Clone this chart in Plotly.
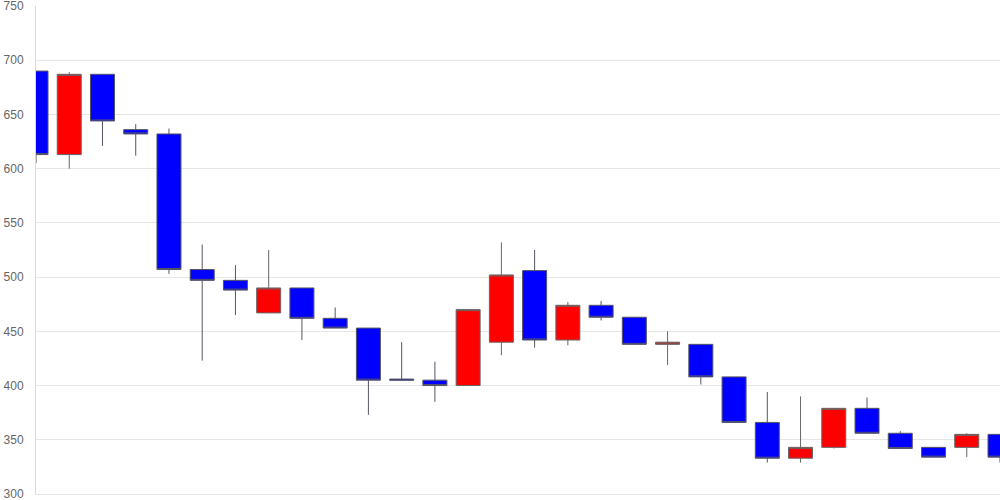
import plotly.graph_objects as go

idx = list(range(30))
opens  = [690, 613, 687, 636, 632, 507, 497, 467, 490, 462, 453, 406, 405, 400, 440, 506, 442, 474, 463, 438, 438, 408, 366, 333, 343, 379, 356, 343, 343, 355]
highs  = [690, 689, 687, 641, 637, 530, 511, 525, 490, 472, 453, 440, 422, 470, 532, 525, 477, 478, 463, 450, 438, 408, 394, 390, 379, 389, 358, 343, 356, 355]
lows   = [605, 600, 621, 612, 503, 423, 465, 467, 442, 453, 373, 405, 385, 400, 428, 435, 437, 460, 438, 419, 401, 366, 329, 329, 342, 356, 342, 334, 334, 329]
closes = [613, 687, 644, 632, 507, 497, 488, 490, 462, 453, 405, 405, 400, 470, 502, 442, 474, 463, 438, 440, 408, 366, 333, 343, 379, 356, 342, 334, 355, 334]
y_ticks = [300, 350, 400, 450, 500, 550, 600, 650, 700, 750]

fig = go.Figure(go.Candlestick(
    x=idx, open=opens, high=highs, low=lows, close=closes,
    increasing=dict(fillcolor="#ff0000", line=dict(color="#666666", width=1)),
    decreasing=dict(fillcolor="#0000ff", line=dict(color="#555566", width=1)),
    whiskerwidth=0, hoverinfo="skip",
))

fig.update_layout(
    width=1000, height=500,
    margin=dict(l=36, r=0, t=6, b=6, autoexpand=False),
    paper_bgcolor="white", plot_bgcolor="white",
    showlegend=False,
    boxgap=0.278, boxgroupgap=0,
    font=dict(family="Liberation Sans, Arial, sans-serif", size=12, color="#666666"),
    xaxis=dict(range=[0, 29], showgrid=False, showticklabels=False, zeroline=False,
               rangeslider=dict(visible=False), showline=True, linecolor="#e6e6e6",
               linewidth=1, fixedrange=True),
    yaxis=dict(range=[300, 750], tickvals=y_ticks, ticktext=[str(v) for v in y_ticks],
               showgrid=True, gridcolor="#e6e6e6", gridwidth=1, zeroline=False,
               showline=True, linecolor="#d9d9d9", linewidth=1,
               ticks="", ticklabelstandoff=9, ticklabeloverflow="allow", fixedrange=True),
)

fig.write_html(
    "out.html",
    config={"displayModeBar": False},
    post_script="document.body.style.margin='0';document.body.style.overflow='hidden';",
)
